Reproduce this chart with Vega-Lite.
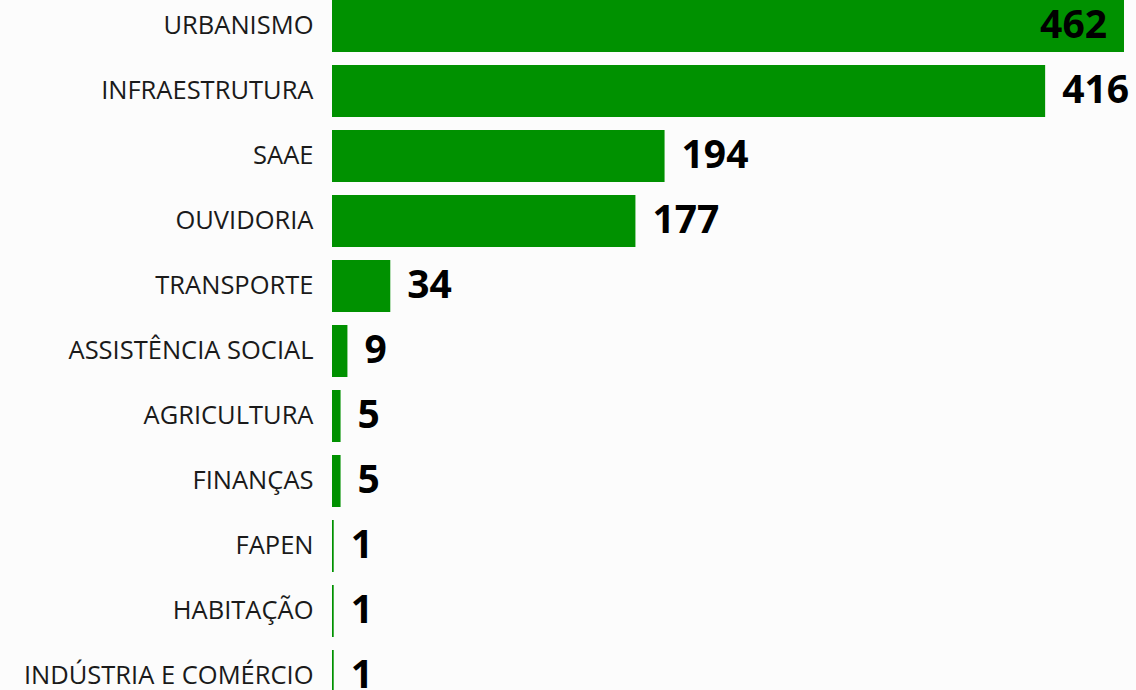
{
  "$schema": "https://vega.github.io/schema/vega-lite/v6.json",
  "width": 792,
  "height": 702,
  "autosize": {"type": "none"},
  "padding": {"left": 332, "top": 0, "right": 12, "bottom": 0},
  "background": "#fcfcfc",
  "config": {"view": {"stroke": null}, "font": "Open Sans"},
  "data": {"values": [
    {"categoria": "URBANISMO", "valor": 462},
    {"categoria": "INFRAESTRUTURA", "valor": 416},
    {"categoria": "SAAE", "valor": 194},
    {"categoria": "OUVIDORIA", "valor": 177},
    {"categoria": "TRANSPORTE", "valor": 34},
    {"categoria": "ASSISTÊNCIA SOCIAL", "valor": 9},
    {"categoria": "AGRICULTURA", "valor": 5},
    {"categoria": "FINANÇAS", "valor": 5},
    {"categoria": "FAPEN", "valor": 1},
    {"categoria": "HABITAÇÃO", "valor": 1},
    {"categoria": "INDÚSTRIA E COMÉRCIO", "valor": 1}
  ]},
  "encoding": {
    "y": {"field": "categoria", "type": "nominal", "sort": null,
      "scale": {"paddingInner": 0.2, "paddingOuter": 0},
      "axis": {"title": null, "domain": false, "ticks": false, "labelPadding": 19, "labelFontSize": 25.5, "labelColor": "#1a1a1a", "labelFont": "Open Sans", "labelLimit": 400}},
    "x": {"field": "valor", "type": "quantitative", "scale": {"domain": [0, 462], "nice": false, "zero": true}, "axis": null}
  },
  "layer": [
    {"mark": {"type": "bar", "color": "#009100"}},
    {"transform": [{"filter": "datum.valor < 450"}],
     "mark": {"type": "text", "align": "left", "baseline": "middle", "dx": 17, "fontSize": 39, "fontWeight": "bold", "color": "#000000", "font": "Open Sans"},
     "encoding": {"text": {"field": "valor", "type": "quantitative"}}},
    {"transform": [{"filter": "datum.valor >= 450"}],
     "mark": {"type": "text", "align": "right", "baseline": "middle", "dx": -17, "fontSize": 39, "fontWeight": "bold", "color": "#000000", "font": "Open Sans"},
     "encoding": {"text": {"field": "valor", "type": "quantitative"}}}
  ]
}
